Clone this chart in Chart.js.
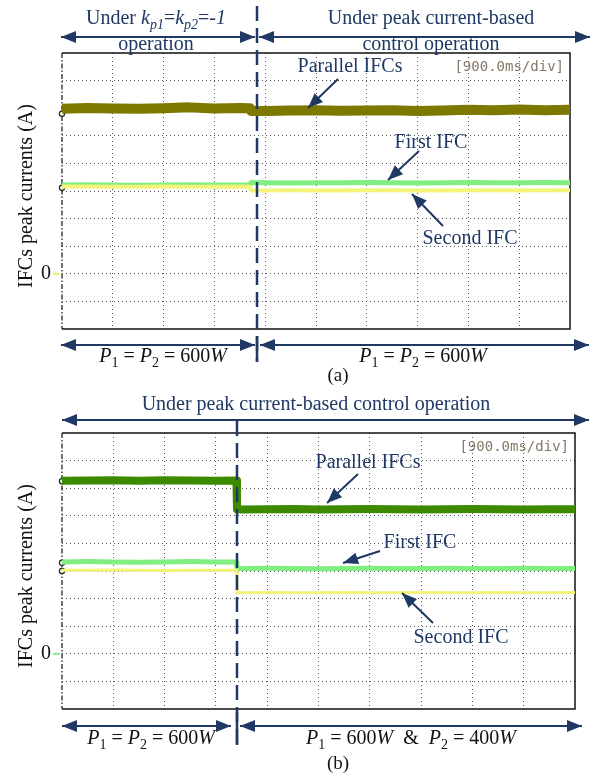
<!DOCTYPE html>
<html>
<head>
<meta charset="utf-8">
<script src="https://cdn.jsdelivr.net/npm/chart.js@4/dist/chart.umd.min.js"></script>
<style>
  html, body { margin: 0; padding: 0; background: #fff; }
  #wrap { position: relative; width: 599px; height: 779px; }
  canvas { position: absolute; left: 0; }
  #cA { top: 0; }
  #cB { top: 390px; }
</style>
</head>
<body>
<div id="wrap">
  <canvas id="cA" width="599" height="390"></canvas>
  <canvas id="cB" width="599" height="389"></canvas>
</div>
<script>
// ---- time base (ms), 900 ms per division, 10 divisions ----
const gridTimes = [0, 900, 1800, 2700, 3600, 4500, 5400, 6300, 7200, 8100, 9000];
const gridLevels = [-2, -1, 0, 1, 2, 3, 4, 5, 6, 7, 8];

// ---- (a) kp1=kp2=-1 operation, then peak current-based control ----
const timeA = [0, 450, 900, 1350, 1800, 2250, 2700, 3150, 3330, 3350, 3600, 4050, 4500, 4950, 5400, 5850, 6300, 6750, 7200, 7650, 8100, 8550, 9000];
const parallelA = [5.98, 6.01, 5.99, 5.98, 6.00, 6.03, 5.99, 6.01, 6.00, 5.90, 5.90, 5.92, 5.93, 5.91, 5.92, 5.93, 5.90, 5.92, 5.94, 5.93, 5.95, 5.93, 5.94];
const firstA = [3.22, 3.23, 3.22, 3.21, 3.22, 3.23, 3.22, 3.22, 3.22, 3.31, 3.30, 3.29, 3.30, 3.30, 3.31, 3.30, 3.29, 3.30, 3.31, 3.30, 3.30, 3.31, 3.30];
const secondA = [3.16, 3.16, 3.15, 3.15, 3.16, 3.15, 3.15, 3.16, 3.15, 3.02, 3.02, 3.03, 3.02, 3.02, 3.03, 3.03, 3.02, 3.02, 3.03, 3.03, 3.02, 3.03, 3.03];
const switchA = 3455;
const markersA = [5.8, 3.12];

// ---- (b) peak current-based control, P2 stepped from 600 W to 400 W ----
const timeB = [0, 450, 900, 1350, 1800, 2250, 2700, 3060, 3070, 3150, 3600, 4050, 4500, 4950, 5400, 5850, 6300, 6750, 7200, 7650, 8100, 8550, 9000];
const parallelB = [6.27, 6.28, 6.29, 6.27, 6.29, 6.28, 6.27, 6.28, 5.24, 5.23, 5.24, 5.25, 5.23, 5.24, 5.25, 5.24, 5.23, 5.24, 5.25, 5.24, 5.23, 5.24, 5.24];
const firstB = [3.33, 3.34, 3.33, 3.32, 3.33, 3.34, 3.33, 3.33, 3.09, 3.09, 3.10, 3.09, 3.08, 3.09, 3.10, 3.09, 3.09, 3.10, 3.09, 3.09, 3.10, 3.09, 3.09];
const secondB = [3.03, 3.03, 3.04, 3.03, 3.02, 3.03, 3.03, 3.03, 2.21, 2.21, 2.22, 2.21, 2.21, 2.22, 2.21, 2.21, 2.22, 2.21, 2.21, 2.22, 2.21, 2.21, 2.22];
const switchB = 3070;
const markersB = [6.25, 3.3, 3.0];

const NAVY = '#1f3864';
const SERIF = '"Liberation Serif", "Times New Roman", serif';

function pts(t, v) { return t.map((x, i) => ({ x, y: v[i] })); }

function rich(ctx, parts, cx, y, size, color) {
  ctx.save();
  ctx.fillStyle = color;
  ctx.textBaseline = 'middle';
  ctx.textAlign = 'left';
  const fontOf = p => (p.i ? 'italic ' : '') + (p.s ? Math.round(size * 0.68) : size) + 'px ' + SERIF;
  let total = 0;
  parts.forEach(p => { ctx.font = fontOf(p); p.w = ctx.measureText(p.t).width; total += p.w; });
  let x = cx - total / 2;
  parts.forEach(p => {
    ctx.font = fontOf(p);
    ctx.fillText(p.t, x, y + (p.s ? size * 0.3 : 0));
    x += p.w;
  });
  ctx.restore();
}

function text(ctx, s, x, y, size, color, align) {
  ctx.save();
  ctx.font = size + 'px ' + SERIF;
  ctx.fillStyle = color;
  ctx.textAlign = align || 'center';
  ctx.textBaseline = 'middle';
  ctx.fillText(s, x, y);
  ctx.restore();
}

function head(ctx, x1, y1, x2, y2, len, half) {
  const a = Math.atan2(y2 - y1, x2 - x1);
  ctx.beginPath();
  ctx.moveTo(x2, y2);
  ctx.lineTo(x2 - len * Math.cos(a) + half * Math.sin(a), y2 - len * Math.sin(a) - half * Math.cos(a));
  ctx.lineTo(x2 - len * Math.cos(a) - half * Math.sin(a), y2 - len * Math.sin(a) + half * Math.cos(a));
  ctx.closePath();
  ctx.fill();
}

function arrow(ctx, x1, y1, x2, y2, both) {
  ctx.save();
  ctx.strokeStyle = NAVY;
  ctx.fillStyle = NAVY;
  ctx.lineWidth = 2;
  ctx.beginPath();
  ctx.moveTo(x1, y1);
  ctx.lineTo(x2, y2);
  ctx.stroke();
  head(ctx, x1, y1, x2, y2, 15, 6);
  if (both) head(ctx, x2, y2, x1, y1, 15, 6);
  ctx.restore();
}

function vline(ctx, x, y1, y2, dash) {
  ctx.save();
  ctx.strokeStyle = NAVY;
  ctx.lineWidth = 2.5;
  ctx.setLineDash(dash || []);
  ctx.beginPath();
  ctx.moveTo(x, y1);
  ctx.lineTo(x, y2);
  ctx.stroke();
  ctx.restore();
}

// oscilloscope frame: solid top/right/bottom, dash-dot left edge, "0" level label, time/div tag
const framePlugin = {
  id: 'scopeFrame',
  beforeDatasetsDraw(chart, args, opts) {
    const { ctx, chartArea: a, scales } = chart;
    ctx.save();
    ctx.strokeStyle = '#111';
    ctx.lineWidth = 1.5;
    ctx.beginPath();
    ctx.moveTo(a.left, a.top); ctx.lineTo(a.right, a.top);
    ctx.lineTo(a.right, a.bottom); ctx.lineTo(a.left, a.bottom);
    ctx.stroke();
    ctx.setLineDash([5, 2, 1.5, 2]);
    ctx.lineWidth = 1.2;
    ctx.beginPath();
    ctx.moveTo(a.left, a.top); ctx.lineTo(a.left, a.bottom);
    ctx.stroke();
    ctx.restore();

    const y0 = scales.y.getPixelForValue(0);
    text(ctx, '0', a.left - 16, y0, 20, '#111');
    ctx.save();
    ctx.strokeStyle = opts.zeroColor;
    ctx.lineWidth = 2;
    ctx.beginPath();
    ctx.moveTo(a.left - 9, y0); ctx.lineTo(a.left - 2, y0);
    ctx.stroke();
    ctx.restore();

    ctx.save();
    ctx.font = '14px "DejaVu Sans Mono", "Liberation Mono", monospace';
    ctx.fillStyle = '#857766';
    ctx.textAlign = 'right';
    ctx.textBaseline = 'middle';
    ctx.fillText('[900.0ms/div]', a.right - 6, a.top + 14);
    ctx.restore();

    ctx.save();
    ctx.translate(27, (a.top + a.bottom) / 2 + 5);
    ctx.rotate(-Math.PI / 2);
    text(ctx, 'IFCs peak currents (A)', 0, 0, 20, '#111');
    ctx.restore();
  }
};

function scopeOptions(pad, zeroColor, decor) {
  return {
    responsive: false,
    animation: false,
    devicePixelRatio: 1,
    layout: { padding: pad },
    plugins: { legend: { display: false }, tooltip: { enabled: false }, scopeFrame: { zeroColor }, decor },
    elements: { point: { radius: 0 }, line: { tension: 0 } },
    scales: {
      x: {
        type: 'linear', min: 0, max: 9000,
        afterBuildTicks: s => { s.ticks = gridTimes.map(v => ({ value: v })); },
        afterFit: s => { s.height = 0; },
        ticks: { display: false },
        border: { display: false, dash: [1, 3] },
        grid: {
          drawTicks: false, lineWidth: 1,
          color: c => (c.tick && (c.tick.value === 0 || c.tick.value === 9000)) ? 'rgba(0,0,0,0)' : '#555'
        }
      },
      y: {
        type: 'linear', min: -2, max: 8,
        afterBuildTicks: s => { s.ticks = gridLevels.map(v => ({ value: v })); },
        afterFit: s => { s.width = 0; },
        ticks: { display: false },
        border: { display: false, dash: [1, 3] },
        grid: {
          drawTicks: false, lineWidth: 1,
          color: c => (c.tick && (c.tick.value === -2 || c.tick.value === 8)) ? 'rgba(0,0,0,0)' : '#555'
        }
      }
    }
  };
}

function traceSet(label, t, v, color, width) {
  return { label, data: pts(t, v), borderColor: color, borderWidth: width, pointRadius: 0, fill: false, borderJoinStyle: 'round' };
}
function markerSet(levels) {
  return {
    label: 'markers', data: levels.map(y => ({ x: 0, y })), showLine: false,
    pointRadius: 2.6, pointBorderWidth: 1.2, pointBorderColor: '#222', pointBackgroundColor: '#fff', clip: false
  };
}

// ---------- chart (a) ----------
const decorA = {
  id: 'decorA',
  afterDraw(chart) {
    const { ctx, scales } = chart;
    const xs = scales.x.getPixelForValue(switchA);
    vline(ctx, xs, 6, 362, [15, 7]);
    vline(ctx, xs, 336, 362, []);
    // header
    arrow(ctx, 61, 37, xs - 2, 37, true);
    arrow(ctx, xs + 2, 37, 590, 37, true);
    rich(ctx, [{ t: 'Under ' }, { t: 'k', i: 1 }, { t: 'p1', i: 1, s: 1 }, { t: '=' }, { t: 'k', i: 1 }, { t: 'p2', i: 1, s: 1 }, { t: '=-' }, { t: '1', i: 1 }], 156, 19, 20, NAVY);
    text(ctx, 'operation', 156, 45, 20, NAVY);
    text(ctx, 'Under peak current-based', 431, 19, 20, NAVY);
    text(ctx, 'control operation', 431, 45, 20, NAVY);
    // footer
    arrow(ctx, 61, 345, xs - 2, 345, true);
    arrow(ctx, xs + 3, 345, 589, 345, true);
    const pEq = [{ t: 'P', i: 1 }, { t: '1', s: 1 }, { t: ' = ' }, { t: 'P', i: 1 }, { t: '2', s: 1 }, { t: ' = 600' }, { t: 'W', i: 1 }];
    rich(ctx, pEq.map(p => ({ ...p })), 163, 357, 20, '#111');
    rich(ctx, pEq.map(p => ({ ...p })), 423, 357, 20, '#111');
    text(ctx, '(a)', 338, 376, 19, '#111');
    // trace annotations
    text(ctx, 'Parallel IFCs', 350, 67, 20, NAVY);
    arrow(ctx, 338, 79, 308, 108);
    text(ctx, 'First IFC', 431, 143, 20, NAVY);
    arrow(ctx, 419, 151, 388, 180);
    text(ctx, 'Second IFC', 470, 239, 20, NAVY);
    arrow(ctx, 443, 226, 412, 194);
  }
};

new Chart(document.getElementById('cA'), {
  type: 'line',
  data: {
    datasets: [
      traceSet('Second IFC', timeA, secondA, '#f4f47a', 4),
      traceSet('First IFC', timeA, firstA, '#80ee80', 5),
      traceSet('Parallel IFCs', timeA, parallelA, '#7d7800', 10),
      markerSet(markersA)
    ]
  },
  options: scopeOptions({ left: 62, right: 29, top: 53, bottom: 61 }, '#f0f070', {}),
  plugins: [framePlugin, decorA]
});

// ---------- chart (b) ----------
const decorB = {
  id: 'decorB',
  afterDraw(chart) {
    const { ctx, scales } = chart;
    const xs = scales.x.getPixelForValue(switchB);
    vline(ctx, xs, 31, 355, [15, 7]);
    vline(ctx, xs, 322, 355, []);
    // header
    text(ctx, 'Under peak current-based control operation', 316, 15, 20, NAVY);
    arrow(ctx, 62, 30, 589, 30, true);
    // footer
    arrow(ctx, 62, 336, xs - 6, 336, true);
    arrow(ctx, xs + 3, 336, 582, 336, true);
    rich(ctx, [{ t: 'P', i: 1 }, { t: '1', s: 1 }, { t: ' = ' }, { t: 'P', i: 1 }, { t: '2', s: 1 }, { t: ' = 600' }, { t: 'W', i: 1 }], 151, 349, 20, '#111');
    rich(ctx, [{ t: 'P', i: 1 }, { t: '1', s: 1 }, { t: ' = 600' }, { t: 'W', i: 1 }, { t: '  &  ' }, { t: 'P', i: 1 }, { t: '2', s: 1 }, { t: ' = 400' }, { t: 'W', i: 1 }], 411, 349, 20, '#111');
    text(ctx, '(b)', 338, 374, 19, '#111');
    // trace annotations
    text(ctx, 'Parallel IFCs', 368, 73, 20, NAVY);
    arrow(ctx, 358, 84, 327, 113);
    text(ctx, 'First IFC', 420, 153, 20, NAVY);
    arrow(ctx, 380, 161, 343, 173);
    text(ctx, 'Second IFC', 461, 248, 20, NAVY);
    arrow(ctx, 433, 233, 402, 203);
  }
};

new Chart(document.getElementById('cB'), {
  type: 'line',
  data: {
    datasets: [
      traceSet('Second IFC', timeB, secondB, '#f4f47a', 3),
      traceSet('First IFC', timeB, firstB, '#80ee80', 5),
      traceSet('Parallel IFCs', timeB, parallelB, '#3d8a00', 8),
      markerSet(markersB)
    ]
  },
  options: scopeOptions({ left: 62, right: 24, top: 43, bottom: 70 }, '#80ee80', {}),
  plugins: [framePlugin, decorB]
});
</script>
</body>
</html>
